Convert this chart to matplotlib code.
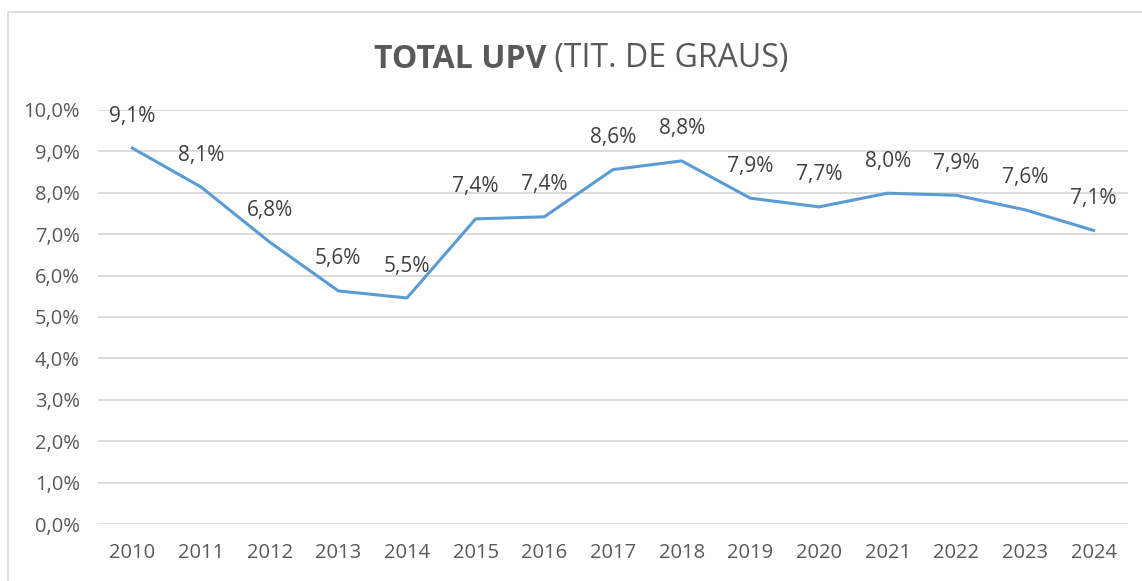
import matplotlib.pyplot as plt
from matplotlib.patches import Rectangle

# data (percent)
years = ['2010', '2011', '2012', '2013', '2014', '2015', '2016', '2017',
         '2018', '2019', '2020', '2021', '2022', '2023', '2024']
rates = [9.08, 8.14, 6.81, 5.63, 5.46, 7.37, 7.42, 8.56,
         8.77, 7.87, 7.66, 7.99, 7.94, 7.59, 7.09]
yticks = [0, 1, 2, 3, 4, 5, 6, 7, 8, 9, 10]

plt.rcParams['font.family'] = ['Open Sans', 'DejaVu Sans']
grey = '#595959'

fig = plt.figure(figsize=(11.42, 5.81), dpi=100)
ax = fig.add_axes([0.0858, 0.0981, 0.9019, 0.7126])

# chart frame (only left and top edges are inside the picture)
fig.patches.append(Rectangle((8 / 1142, -0.1), 1.2, 0.1 + (581 - 12) / 581,
                             transform=fig.transFigure, fill=False,
                             edgecolor='#d9d9d9', linewidth=1.2))

x = list(range(len(years)))
ax.plot(x, rates, color='#5b9bd5', linewidth=2.2, solid_joinstyle='round')

for xi, v in zip(x, rates):
    ax.annotate(f"{v:.1f}%".replace('.', ','), (xi, v), xytext=(0, 23),
                textcoords='offset points', ha='center', va='center',
                fontsize=15, color='#404040')

ax.set_xlim(-0.5, len(years) - 0.5)
ax.set_ylim(0, 10)
ax.set_xticks(x)
ax.set_xticklabels(years)
ax.set_yticks(yticks)
ax.set_yticklabels([f"{t},0%" for t in yticks])
ax.tick_params(axis='both', length=0, labelsize=14.5, colors=grey)
ax.tick_params(axis='y', pad=13)
ax.tick_params(axis='x', pad=14)
ax.grid(axis='y', color='#d9d9d9', linewidth=1.3)
ax.set_axisbelow(True)
for s in ax.spines.values():
    s.set_visible(False)

# title: bold part + normal part
t1 = fig.text(374 / 1142, 1 - 59 / 581, 'TOTAL UPV', fontsize=23,
              fontweight='bold', color=grey, ha='left', va='center')
fig.canvas.draw()
bb = t1.get_window_extent()
fig.text(bb.x1 / fig.bbox.width, 1 - 59 / 581, ' (TIT. DE GRAUS)',
         fontsize=23, color=grey, ha='left', va='center')

fig.savefig('out.png', dpi=100)
